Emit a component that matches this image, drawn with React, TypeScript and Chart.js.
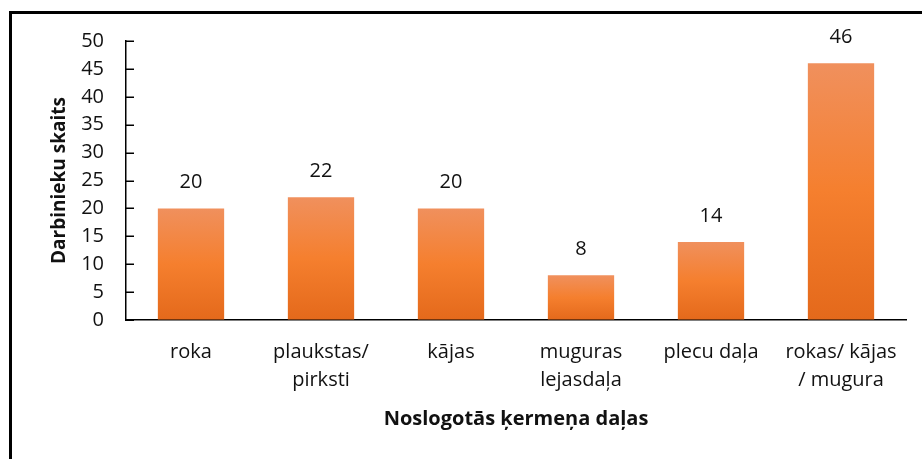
import React, { useEffect, useRef } from "react";
import { Chart, registerables } from "chart.js";

Chart.register(...registerables);

const categories: (string | string[])[] = [
  "roka",
  ["plaukstas/", "pirksti"],
  "kājas",
  ["muguras", "lejasdaļa"],
  "plecu daļa",
  ["rokas/ kājas", "/ mugura"],
];
const values: number[] = [20, 22, 20, 8, 14, 46];
const yTitle = "Darbinieku skaits";
const xTitle = "Noslogotās ķermeņa daļas";
const yMin = 0;
const yMax = 50;
const yStep = 5;

const FONT = "'Open Sans', 'DejaVu Sans', sans-serif";
const TEXT = "#111111";

export default function App() {
  const ref = useRef<HTMLCanvasElement | null>(null);

  useEffect(() => {
    const canvas = ref.current;
    if (!canvas) return;

    const framePlugin = {
      id: "frame",
      beforeDraw(chart: any) {
        const ctx = chart.ctx;
        ctx.save();
        ctx.fillStyle = "#ffffff";
        ctx.fillRect(0, 0, chart.width, chart.height);
        ctx.strokeStyle = "#000";
        ctx.lineWidth = 3;
        ctx.beginPath();
        ctx.moveTo(10.5, chart.height + 5);
        ctx.lineTo(10.5, 12.5);
        ctx.lineTo(chart.width + 5, 12.5);
        ctx.stroke();
        ctx.restore();
      },
    };

    const innerTicks = {
      id: "innerTicks",
      afterDraw(chart: any) {
        const ctx = chart.ctx;
        const y = chart.scales.y;
        ctx.save();
        ctx.strokeStyle = "#000";
        ctx.lineWidth = 1.5;
        for (let v = yMin; v <= yMax; v += yStep) {
          const py = Math.round(y.getPixelForValue(v)) + 0.25;
          ctx.beginPath();
          ctx.moveTo(y.right, py);
          ctx.lineTo(y.right + 8, py);
          ctx.stroke();
        }
        ctx.restore();
      },
    };

    const labelsPlugin = {
      id: "barLabels",
      afterDatasetsDraw(chart: any) {
        const ctx = chart.ctx;
        const meta = chart.getDatasetMeta(0);
        ctx.save();
        ctx.font = `20px ${FONT}`;
        ctx.fillStyle = TEXT;
        ctx.textAlign = "center";
        ctx.textBaseline = "middle";
        meta.data.forEach((bar: any, i: number) => {
          ctx.fillText(String(values[i]), bar.x, bar.y - 26);
        });
        ctx.restore();
      },
    };

    const chart = new Chart(canvas, {
      type: "bar",
      data: {
        labels: categories,
        datasets: [
          {
            data: values,
            backgroundColor: (c: any) => {
              const ch = c.chart;
              const ys = ch.scales?.y;
              if (!ys || c.dataIndex === undefined) return "#F47F30";
              const top = ys.getPixelForValue(values[c.dataIndex]);
              const bottom = ys.getPixelForValue(0);
              if (!isFinite(top) || !isFinite(bottom) || top === bottom) return "#F47F30";
              const g = ch.ctx.createLinearGradient(0, top, 0, bottom);
              g.addColorStop(0, "#F0905D");
              g.addColorStop(0.5, "#F57F2E");
              g.addColorStop(1, "#E4691B");
              return g;
            },
            borderWidth: 0,
            barPercentage: 0.51,
            categoryPercentage: 1,
          },
        ],
      },
      options: {
        responsive: false,
        animation: false,
        layout: { padding: { left: 40, right: 16, top: 41, bottom: 20 } },
        plugins: {
          legend: { display: false },
          tooltip: { enabled: false },
        },
        scales: {
          x: {
            grid: { display: false, drawTicks: false },
            border: { display: true, color: "#000", width: 1.5 },
            ticks: {
              color: TEXT,
              font: { family: FONT, size: 20, lineHeight: 1.4 },
              padding: 18,
              maxRotation: 0,
              autoSkip: false,
            },
            title: {
              display: true,
              text: xTitle,
              color: TEXT,
              font: { family: FONT, size: 20, weight: "bold" },
              padding: { top: 0, bottom: 8 },
            },
            afterFit(scale: any) {
              scale.height = 459 - 320 - 20;
            },
          },
          y: {
            min: yMin,
            max: yMax,
            grid: { display: true, drawOnChartArea: false, drawTicks: false },
            border: { display: true, color: "#000", width: 1.5 },
            ticks: {
              stepSize: yStep,
              color: TEXT,
              font: { family: FONT, size: 20 },
              padding: 22,
            },
            title: {
              display: true,
              text: yTitle,
              color: TEXT,
              font: { family: FONT, size: 19, weight: "bold" },
              padding: { top: 8, bottom: 0 },
            },
            afterFit(scale: any) {
              scale.width = 126 - 40;
            },
          },
        },
      },
      plugins: [framePlugin, innerTicks, labelsPlugin],
    } as any);

    return () => chart.destroy();
  }, []);

  return (
    <canvas
      ref={ref}
      width={922}
      height={459}
      style={{ position: "absolute", left: 0, top: 0, display: "block" }}
    />
  );
}
